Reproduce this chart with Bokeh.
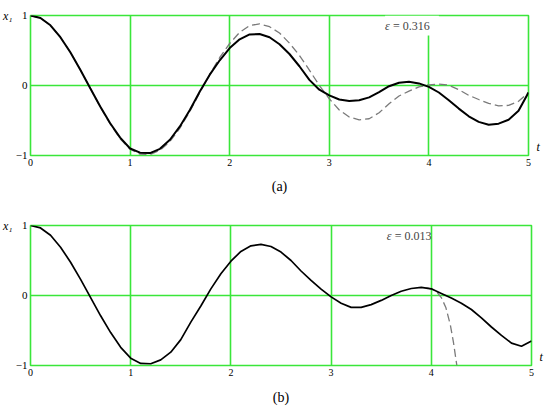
from bokeh.plotting import figure
from bokeh.models import Range1d, FixedTicker, Label, LinearAxis, Title
from bokeh.layouts import column
from bokeh.embed import file_html
from bokeh.resources import INLINE

# ---------------- data ----------------
t = [0.0, 0.1, 0.2, 0.3, 0.4, 0.5, 0.6, 0.7, 0.8, 0.9,
     1.0, 1.1, 1.2, 1.3, 1.4, 1.5, 1.6, 1.7, 1.8, 1.9,
     2.0, 2.1, 2.2, 2.3, 2.4, 2.5, 2.6, 2.7, 2.8, 2.9,
     3.0, 3.1, 3.2, 3.3, 3.4, 3.5, 3.6, 3.7, 3.8, 3.9,
     4.0, 4.1, 4.2, 4.3, 4.4, 4.5, 4.6, 4.7, 4.8, 4.9, 5.0]

# panel (a), eps = 0.316
a_solid = [1.00, 0.965, 0.86, 0.69, 0.475, 0.225, -0.04, -0.30, -0.54, -0.745,
           -0.90, -0.96, -0.965, -0.905, -0.775, -0.585, -0.35, -0.085, 0.155, 0.36,
           0.535, 0.66, 0.73, 0.735, 0.69, 0.59, 0.45, 0.275, 0.08, -0.06,
           -0.14, -0.20, -0.22, -0.21, -0.17, -0.095, -0.01, 0.04, 0.055, 0.03,
           -0.02, -0.10, -0.21, -0.33, -0.44, -0.52, -0.56, -0.545, -0.49, -0.36, -0.10]
a_dashed = [1.00, 0.965, 0.86, 0.69, 0.475, 0.225, -0.04, -0.305, -0.55, -0.76,
            -0.91, -0.98, -0.985, -0.925, -0.80, -0.61, -0.37, -0.10, 0.16, 0.40,
            0.60, 0.76, 0.855, 0.88, 0.84, 0.75, 0.605, 0.43, 0.22, 0.0,
            -0.19, -0.35, -0.45, -0.49, -0.475, -0.39, -0.26, -0.15, -0.08, -0.02,
            0.01, 0.02, 0.005, -0.06, -0.14, -0.20, -0.255, -0.29, -0.285, -0.225, -0.10]

# panel (b), eps = 0.013
b_solid = [1.00, 0.965, 0.86, 0.69, 0.475, 0.23, -0.03, -0.29, -0.53, -0.74,
           -0.895, -0.97, -0.975, -0.92, -0.81, -0.63, -0.38, -0.15, 0.095, 0.31,
           0.49, 0.63, 0.71, 0.73, 0.70, 0.62, 0.50, 0.35, 0.215, 0.09,
           -0.02, -0.11, -0.17, -0.17, -0.13, -0.07, 0.0, 0.06, 0.10, 0.115,
           0.095, 0.03, -0.035, -0.11, -0.20, -0.32, -0.45, -0.57, -0.68, -0.725, -0.65]
b_dashed_t = [3.95, 4.0, 4.05, 4.1, 4.145, 4.19, 4.22, 4.255]
b_dashed = [0.11, 0.095, 0.06, -0.03, -0.17, -0.42, -0.66, -1.0]

x_ticks = [0, 1, 2, 3, 4, 5]
y_ticks = [-1, 0, 1]
y_labels = {-1: "\u22121", 0: "0", 1: "1"}
y_name = "x\u2081"
x_name = "t"
x_name_pos = -0.88
eps_a = "= 0.316"
eps_b = "= 0.013"
captions = ["(a)", "(b)"]

GREEN = "#3ae63a"
SERIF = "'Liberation Serif', 'Times New Roman', serif"


def bare_axis(ax):
    ax.axis_line_color = None
    ax.major_tick_line_color = None
    ax.minor_tick_line_color = None
    ax.major_tick_out = 0
    ax.major_tick_in = 0
    ax.minor_tick_out = 0
    ax.minor_tick_in = 0
    ax.major_label_text_font = SERIF
    ax.major_label_text_color = "black"


def panel(frame_w, top, bottom, right, caption, cap_standoff):
    p = figure(frame_width=frame_w, frame_height=140,
               x_range=Range1d(0, 5), y_range=Range1d(-1, 1),
               output_backend="svg", toolbar_location=None,
               min_border_left=30, min_border_right=right,
               min_border_top=top, min_border_bottom=bottom,
               background_fill_color="white", border_fill_color="white")
    p.outline_line_color = GREEN
    p.outline_line_width = 1.6
    p.outline_line_alpha = 1.0
    for ax, ticks in ((p.xaxis, x_ticks), (p.yaxis, y_ticks)):
        ax.ticker = FixedTicker(ticks=ticks)
        bare_axis(ax)
    p.xaxis.major_label_text_font_size = "10px"
    p.xaxis.major_label_standoff = 3
    p.yaxis.major_label_text_font_size = "11px"
    p.yaxis.major_label_standoff = 3
    p.yaxis.major_label_overrides = y_labels
    p.xgrid.ticker = FixedTicker(ticks=[1, 2, 3, 4])
    p.ygrid.ticker = FixedTicker(ticks=[0])
    for g in (p.xgrid, p.ygrid):
        g.grid_line_color = GREEN
        g.grid_line_width = 1.6
        g.grid_line_alpha = 1.0
    # axis name x1 (extra left axis, one tick at y = 1)
    ya = LinearAxis(ticker=FixedTicker(ticks=[1]), major_label_overrides={1: y_name})
    bare_axis(ya)
    ya.major_label_text_font_size = "12px"
    ya.major_label_text_font_style = "italic"
    ya.major_label_standoff = 0
    p.add_layout(ya, "left")
    # axis name t (extra right axis, one tick)
    xa = LinearAxis(ticker=FixedTicker(ticks=[x_name_pos]),
                    major_label_overrides={x_name_pos: x_name})
    bare_axis(xa)
    xa.major_label_text_font_size = "12px"
    xa.major_label_text_font_style = "italic"
    xa.major_label_standoff = 8
    p.add_layout(xa, "right")
    # caption
    p.add_layout(Title(text=caption, align="center", text_font=SERIF,
                       text_font_size="14px", text_font_style="normal",
                       text_color="black", standoff=cap_standoff), "below")
    return p


pa = panel(498, 15, 50, 18, captions[0], 16)
pa.line(t, a_dashed, line_color="#7a7a7a", line_width=1.3, line_dash="8 4")
pa.line(t, a_solid, line_color="black", line_width=2.0)
pa.add_layout(Label(x=3.56, y=0.857, text="\u03b5  " + eps_a, text_font=SERIF,
                    text_font_size="12px", text_baseline="middle", text_align="left",
                    text_color="white", background_fill_color="white", padding=3))
pa.add_layout(Label(x=3.56, y=0.857, text="\u03b5", text_font=SERIF, text_font_style="italic",
                    text_font_size="12px", text_baseline="middle", text_align="left"))
pa.add_layout(Label(x=3.56, y=0.857, x_offset=8, text=eps_a, text_font=SERIF,
                    text_font_size="12px", text_baseline="middle", text_align="left"))

pb = panel(501, 20, 46, 15, captions[1], 19)
pb.line(b_dashed_t, b_dashed, line_color="#7a7a7a", line_width=1.3, line_dash="8 4")
pb.line(t, b_solid, line_color="black", line_width=1.7)
pb.add_layout(Label(x=3.556, y=0.857, text="\u03b5", text_font=SERIF, text_font_style="italic",
                    text_font_size="12px", text_baseline="middle", text_align="left"))
pb.add_layout(Label(x=3.556, y=0.857, x_offset=8, text=eps_b, text_font=SERIF,
                    text_font_size="12px", text_baseline="middle", text_align="left"))

layout = column(pa, pb, spacing=0)
open("out.html", "w").write(file_html(layout, INLINE))
